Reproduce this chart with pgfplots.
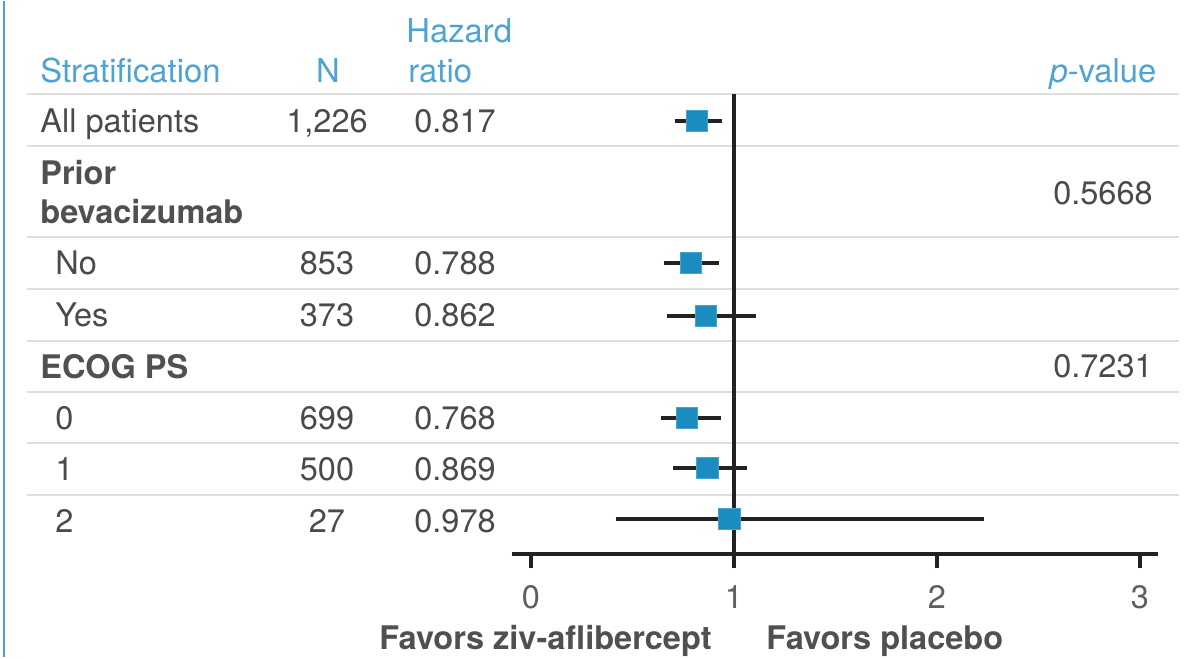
\documentclass[border=0pt]{standalone}
\usepackage{pgfplots}
\pgfplotsset{compat=1.18}
\usepackage{fontspec}
\setmainfont{TeX Gyre Heros}
\definecolor{hdr}{RGB}{77,163,212}
\definecolor{txt}{RGB}{74,74,74}
\definecolor{bld}{RGB}{80,80,80}
\definecolor{grd}{RGB}{222,222,222}
\definecolor{sq}{RGB}{26,140,192}
\definecolor{ink}{RGB}{34,34,34}
\definecolor{tk}{RGB}{95,95,95}
\newcommand{\hd}{\fontsize{16.4}{20}\selectfont}
\newcommand{\bd}{\fontsize{16.25}{20}\selectfont}
\begin{document}
\begin{tikzpicture}
% table background: rules, border, text (pixel coordinates of the layout)
\begin{scope}[x=0.5pt, y=-0.5pt, shift={(-256pt,276.5pt)}]
  \path (0,0) rectangle (1185,656);
  \draw[hdr, line width=1.1pt] (4,0) -- (4,656);
  \foreach \yy in {93,145,236,288,340,391,442,494}
    \draw[grd, line width=1pt] (27,\yy) -- (1179,\yy);
  % header
  \begin{scope}[every node/.style={inner sep=0pt, text=hdr, font=\hd}]
    \node[anchor=base west] at (40,81) {Stratification};
    \node[anchor=base] at (328,81) {N};
    \node[anchor=base west] at (406,41) {Hazard};
    \node[anchor=base west] at (408,81) {ratio};
    \node[anchor=base] at (1103,81) {\textit{p}-value};
  \end{scope}
  % body
  \begin{scope}[every node/.style={inner sep=0pt, text=txt, font=\bd}]
    \node[anchor=base west] at (40,131) {All patients};
    \node[anchor=base] at (327,131) {1,226};
    \node[anchor=base] at (455,131) {0.817};
    \node[anchor=base west, text=bld, font=\bd\bfseries] at (40,183) {Prior};
    \node[anchor=base west, text=bld, font=\bd\bfseries] at (40,222) {bevacizumab};
    \node[anchor=base] at (1103,203) {0.5668};
    \node[anchor=base west] at (55,273) {No};
    \node[anchor=base] at (327,273) {853};
    \node[anchor=base] at (455,273) {0.788};
    \node[anchor=base west] at (55,325) {Yes};
    \node[anchor=base] at (327,325) {373};
    \node[anchor=base] at (455,325) {0.862};
    \node[anchor=base west, text=bld, font=\bd\bfseries] at (40,377) {ECOG PS};
    \node[anchor=base] at (1103,376) {0.7231};
    \node[anchor=base west] at (55,428) {0};
    \node[anchor=base] at (327,428) {699};
    \node[anchor=base] at (455,428) {0.768};
    \node[anchor=base west] at (55,479) {1};
    \node[anchor=base] at (327,479) {500};
    \node[anchor=base] at (455,479) {0.869};
    \node[anchor=base west] at (55,531) {2};
    \node[anchor=base] at (327,531) {27};
    \node[anchor=base] at (455,531) {0.978};
    \node[anchor=base east, text=bld, font=\bd\bfseries] at (712,648) {Favors ziv-aflibercept};
    \node[anchor=base west, text=bld, font=\bd\bfseries] at (766,648) {Favors placebo};
  \end{scope}
\end{scope}
\begin{axis}[
  at={(0,0)}, anchor=south west,
  scale only axis, width=323pt, height=230pt,
  xmin=-0.0936, xmax=3.0887, ymin=103, ymax=563,
  axis x line=bottom, axis y line=none,
  x axis line style={-, line width=1.6pt, color=ink},
  xtick={0,1,2,3}, tick align=outside, major tick length=7pt,
  x tick style={line width=1.6pt, color=ink},
  xticklabel style={font=\bd, text=tk, yshift=-5pt},
  /pgf/number format/assume math mode=true,
  ytick=\empty,
  clip=false,
]
\draw[line width=1.6pt, ink] (axis cs:1,103) -- (axis cs:1,563);
\addplot[ink, line width=1.6pt, mark=none] coordinates {(0.708,536) (0.943,536)};
\addplot[ink, line width=1.6pt, mark=none] coordinates {(0.654,394) (0.928,394)};
\addplot[ink, line width=1.6pt, mark=none] coordinates {(0.668,341) (1.107,341)};
\addplot[ink, line width=1.6pt, mark=none] coordinates {(0.639,239) (0.936,239)};
\addplot[ink, line width=1.6pt, mark=none] coordinates {(0.700,189) (1.066,189)};
\addplot[ink, line width=1.6pt, mark=none] coordinates {(0.417,138) (2.230,138)};
\addplot[only marks, mark=square*, mark size=5.4pt,
  mark options={fill=sq, draw=sq!80!white, line width=0.4pt}]
  coordinates {(0.817,536) (0.788,394) (0.862,341) (0.768,239) (0.869,189) (0.978,138)};
\end{axis}
\end{tikzpicture}
\end{document}
